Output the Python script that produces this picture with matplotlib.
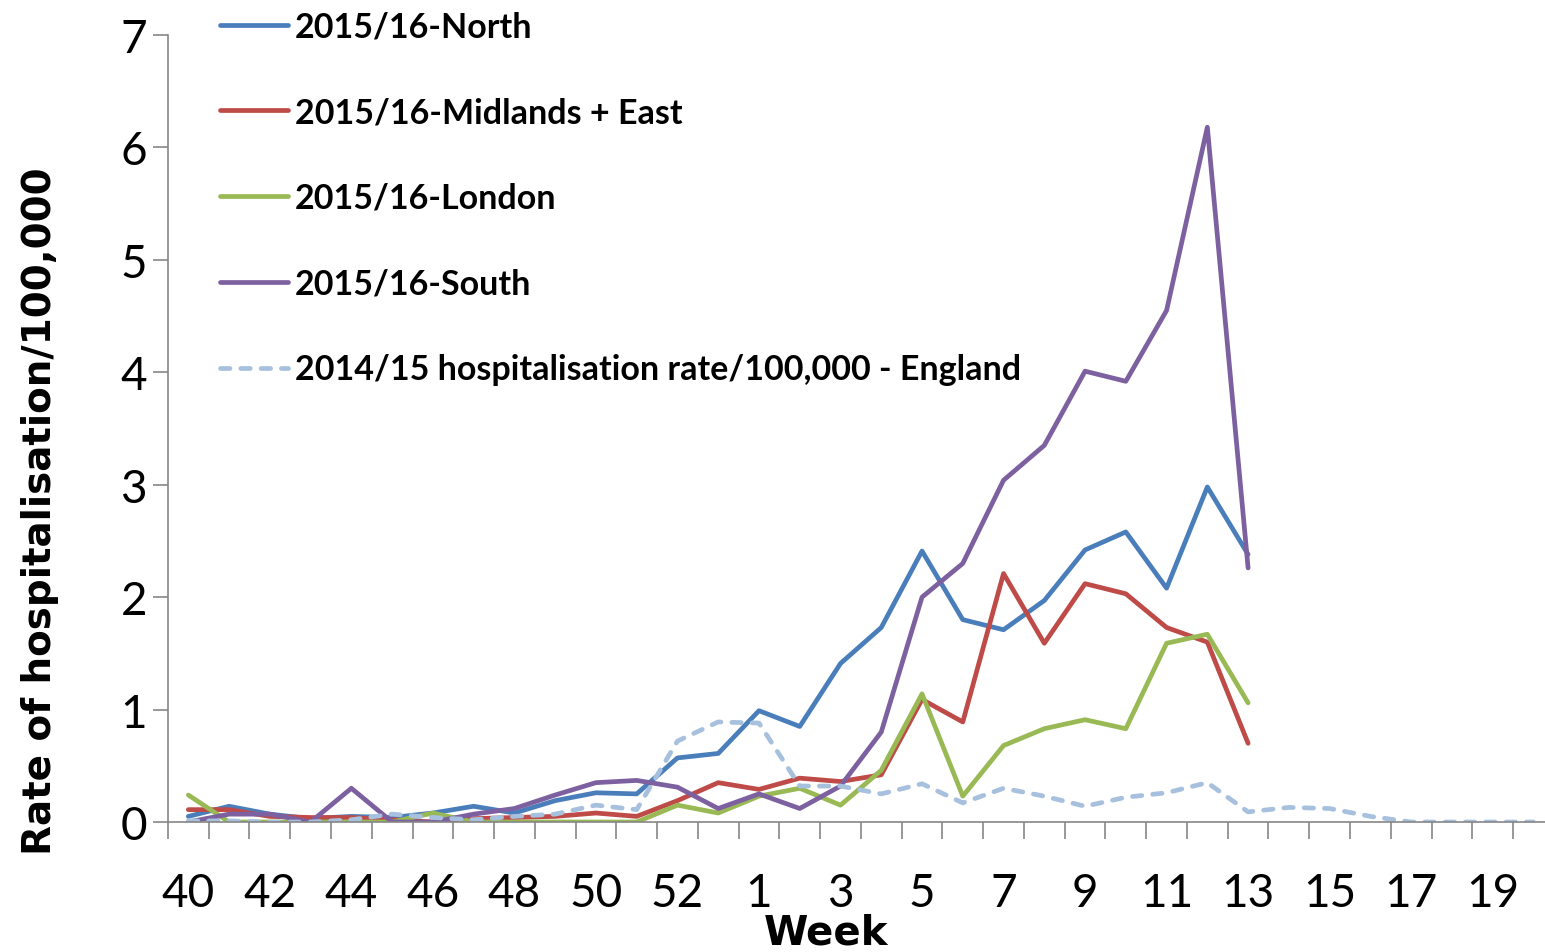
import numpy as np
import matplotlib
matplotlib.use('Agg')
import matplotlib.pyplot as plt

# week labels (2015 had 53 ISO weeks)
weeks = list(range(40, 54)) + list(range(1, 21))

north = [0.05, 0.14, 0.07, 0.03, 0.05, 0.04, 0.08, 0.14, 0.08, 0.19, 0.26, 0.25,
         0.57, 0.61, 0.99, 0.85, 1.41, 1.73, 2.41, 1.80, 1.71, 1.97, 2.42, 2.58,
         2.08, 2.98, 2.38]
midlands_east = [0.11, 0.11, 0.05, 0.04, 0.04, 0.02, 0.00, 0.03, 0.04, 0.05, 0.08, 0.05,
                 0.19, 0.35, 0.29, 0.39, 0.36, 0.42, 1.09, 0.89, 2.21, 1.59, 2.12, 2.03,
                 1.73, 1.60, 0.70]
london = [0.24, 0.00, 0.00, 0.00, 0.00, 0.00, 0.08, 0.00, 0.00, 0.00, 0.00, 0.00,
          0.15, 0.08, 0.23, 0.30, 0.15, 0.46, 1.14, 0.23, 0.68, 0.83, 0.91, 0.83,
          1.59, 1.67, 1.06]
south = [0.00, 0.07, 0.07, 0.00, 0.30, 0.00, 0.00, 0.07, 0.12, 0.24, 0.35, 0.37,
         0.31, 0.12, 0.25, 0.12, 0.32, 0.80, 2.00, 2.30, 3.04, 3.35, 4.01, 3.92,
         4.55, 6.18, 2.26]
england_1415 = [0.01, 0.01, 0.00, 0.00, 0.02, 0.07, 0.04, 0.02, 0.05, 0.07, 0.15, 0.11,
                0.72, 0.89, 0.88, 0.32, 0.32, 0.25, 0.34, 0.17, 0.30, 0.23, 0.14, 0.22,
                0.26, 0.35, 0.09, 0.13, 0.12, 0.05, 0.00, 0.00, 0.00, 0.00]

labels = ['2015/16-North', '2015/16-Midlands + East', '2015/16-London',
          '2015/16-South', '2014/15 hospitalisation rate/100,000 - England']
colors = ['#4A7EBB', '#BE4B48', '#98B954', '#7D60A0', '#A7C0DE']

plt.rcParams['font.family'] = ['Lato', 'DejaVu Sans']

fig = plt.figure(figsize=(15.45, 9.53), dpi=100)
ax = fig.add_axes([0.1087, 0.1364, 0.897, 0.8258])

lw = 3.4
for vals, lab, col in zip([north, midlands_east, london, south], labels[:4], colors[:4]):
    ax.plot(np.arange(len(vals)), vals, color=col, lw=lw, label=lab,
            solid_joinstyle='round', solid_capstyle='round')
ax.plot(np.arange(len(england_1415)), england_1415, color=colors[4], lw=lw,
        label=labels[4], dashes=(2.0, 2.3), dash_capstyle='round')

ax.set_xlim(-0.5, len(weeks) - 0.5)
ax.set_ylim(0, 7)

# y axis
ax.set_yticks(range(0, 8))
ax.tick_params(axis='y', which='major', length=11, width=1.2, color='#868686',
               labelsize=33, pad=4)

# x axis: ticks between categories, labels on every other week
ax.set_xticks(np.arange(-0.5, len(weeks), 1.0))
ax.set_xticklabels([])
ax.tick_params(axis='x', which='major', length=12, width=1.2, color='#868686')
lab_pos = np.arange(0, len(weeks), 2)
ax.set_xticks(lab_pos, minor=True)
ax.set_xticklabels([str(weeks[i]) for i in lab_pos], minor=True)
ax.tick_params(axis='x', which='minor', length=0, labelsize=33, pad=36)

for s in ['top', 'right']:
    ax.spines[s].set_visible(False)
for s in ['left', 'bottom']:
    ax.spines[s].set_color('#868686')
    ax.spines[s].set_linewidth(1.2)

fig.text(40 / 1545, 1 - 511 / 953, 'Rate of hospitalisation/100,000', rotation=90,
         fontsize=28, fontweight='bold', family='DejaVu Sans', ha='center', va='center')
fig.text(826 / 1545, 1 - 934 / 953, 'Week', fontsize=29, fontweight='bold',
         family='DejaVu Sans', ha='center', va='center')

leg = fig.legend(loc='upper left', bbox_to_anchor=(0.1424, 0.988), frameon=False,
                 prop={'weight': 'bold', 'size': 24.5}, handlelength=2.0,
                 handletextpad=0.2, labelspacing=1.58, borderpad=0, borderaxespad=0)

plt.savefig('out.png', dpi=100)
plt.close()
